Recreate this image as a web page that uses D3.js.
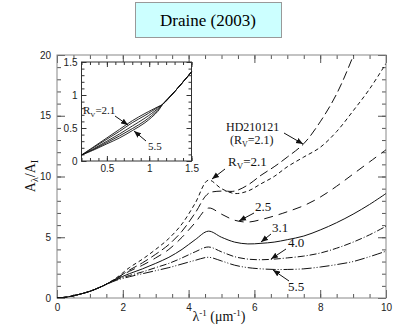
<!DOCTYPE html>
<html>
<head>
<meta charset="utf-8">
<script src="https://cdn.jsdelivr.net/npm/d3@7"></script>
<style>
body { margin: 0; background: #fff; }
</style>
</head>
<body>
<div id="chart"></div>
<script>
// main panel: A_lambda/A_I against inverse wavelength
var xs = [0, 0.3, 0.6, 1.0, 1.4, 1.8, 2.2, 2.6, 3.0, 3.4, 3.8, 4.2, 4.6, 5.0, 5.4, 5.8, 6.2, 6.6, 7.0, 7.5, 8.0, 8.5, 9.0, 9.5, 10];
var hd210121 = [0, 0.08, 0.25, 0.55, 1.0, 1.6, 2.3, 2.9, 3.6, 4.4, 5.5, 7.0, 8.6, 8.8, 8.8, 9.3, 10.1, 10.8, 11.6, 12.7, 14.5, 16.8, 19.9, 23.5, 27.5];
var rv21 = [0, 0.08, 0.25, 0.55, 1.0, 1.65, 2.5, 3.2, 4.0, 4.9, 6.1, 7.8, 9.7, 9.0, 8.6, 8.8, 9.4, 10.0, 10.8, 11.6, 12.4, 13.7, 15.4, 17.2, 19.3];
var rv25 = [0, 0.08, 0.25, 0.55, 1.0, 1.6, 2.2, 2.7, 3.3, 4.0, 5.0, 6.2, 7.4, 6.9, 6.4, 6.25, 6.45, 6.75, 7.1, 7.6, 8.3, 9.2, 10.2, 11.2, 12.2];
var rv31 = [0, 0.08, 0.25, 0.55, 1.0, 1.55, 2.0, 2.4, 2.85, 3.35, 4.0, 4.8, 5.5, 5.0, 4.6, 4.45, 4.5, 4.6, 4.8, 5.1, 5.6, 6.2, 6.9, 7.7, 8.6];
var rv40 = [0, 0.08, 0.25, 0.55, 1.0, 1.5, 1.85, 2.15, 2.5, 2.85, 3.3, 3.8, 4.2, 3.8, 3.4, 3.2, 3.15, 3.2, 3.3, 3.45, 3.7, 4.1, 4.6, 5.2, 5.9];
var rv55 = [0, 0.08, 0.25, 0.55, 1.0, 1.45, 1.75, 2.0, 2.25, 2.5, 2.8, 3.1, 3.35, 3.05, 2.7, 2.5, 2.4, 2.35, 2.35, 2.4, 2.55, 2.75, 3.0, 3.4, 3.85];
var xTicks = [0, 2, 4, 6, 8, 10];
var yTicks = [0, 5, 10, 15, 20];

// inset: near-IR part
var xsIn = [0.2, 0.35, 0.5, 0.65, 0.8, 0.95, 1.1, 1.16, 1.3, 1.5];
var in21 = [0.09, 0.22, 0.35, 0.48, 0.61, 0.72, 0.82, 0.86, 1.05, 1.35];
var in25 = [0.09, 0.21, 0.33, 0.45, 0.58, 0.69, 0.81, 0.86, 1.05, 1.35];
var in31 = [0.09, 0.19, 0.30, 0.41, 0.53, 0.65, 0.79, 0.86, 1.05, 1.35];
var in40 = [0.09, 0.18, 0.28, 0.38, 0.49, 0.61, 0.77, 0.86, 1.05, 1.35];
var in55 = [0.09, 0.17, 0.26, 0.35, 0.46, 0.58, 0.75, 0.86, 1.05, 1.35];
var xTicksIn = [0.5, 1, 1.5];
var yTicksIn = [0, 0.5, 1, 1.5];

var W = 403, H = 327;
var svg = d3.select("#chart").append("svg").attr("width", W).attr("height", H);

var serif = "'Liberation Serif', 'Times New Roman', serif";
var tickFont = "'Liberation Sans', Arial, sans-serif";

// title box
svg.append("rect").attr("x", 135.5).attr("y", 2.5).attr("width", 146).attr("height", 35)
	.style("fill", "#ccffff").style("stroke", "#999").style("stroke-width", 1);
svg.append("text").attr("x", 208).attr("y", 26).attr("text-anchor", "middle")
	.style("font-family", serif).style("font-size", "17px").text("Draine (2003)");

var L = 57, R = 386, T = 55, B = 298;
var x = d3.scaleLinear().domain([0, 10]).range([L, R]);
var y = d3.scaleLinear().domain([0, 20]).range([B, T]);

// ticks on all four sides, pointing inward
function ticksMain() {
	var g = svg.append("g").attr("class", "axis").style("font-family", tickFont).style("font-size", "14px");
	g.append("g").attr("transform", "translate(0," + B + ")")
		.call(d3.axisBottom(x).tickValues(xTicks).tickSize(-8).tickPadding(6).tickFormat(d3.format("d")));
	g.append("g").attr("transform", "translate(0," + B + ")")
		.call(d3.axisBottom(x).tickValues(d3.range(0, 10.01, 0.5)).tickSize(-4).tickFormat(""));
	g.append("g").attr("transform", "translate(0," + T + ")")
		.call(d3.axisTop(x).tickValues(xTicks).tickSize(-8).tickFormat(""));
	g.append("g").attr("transform", "translate(0," + T + ")")
		.call(d3.axisTop(x).tickValues(d3.range(0, 10.01, 0.5)).tickSize(-4).tickFormat(""));
	g.append("g").attr("transform", "translate(" + L + ",0)")
		.call(d3.axisLeft(y).tickValues(yTicks).tickSize(-8).tickPadding(6).tickFormat(d3.format("d")));
	g.append("g").attr("transform", "translate(" + L + ",0)")
		.call(d3.axisLeft(y).tickValues(d3.range(0, 20.01, 1)).tickSize(-4).tickFormat(""));
	g.append("g").attr("transform", "translate(" + R + ",0)")
		.call(d3.axisRight(y).tickValues(yTicks).tickSize(-8).tickFormat(""));
	g.append("g").attr("transform", "translate(" + R + ",0)")
		.call(d3.axisRight(y).tickValues(d3.range(0, 20.01, 1)).tickSize(-4).tickFormat(""));
	g.selectAll(".domain").remove();
	g.selectAll("line").style("stroke", "#555");
	g.selectAll("text").style("fill", "#222");
}
ticksMain();
svg.append("rect").attr("x", L).attr("y", T).attr("width", R - L).attr("height", B - T)
	.style("fill", "none").style("stroke", "#888").style("stroke-width", 1);

svg.append("clipPath").attr("id", "clipMain").append("rect")
	.attr("x", L).attr("y", T).attr("width", R - L).attr("height", B - T);

var series = [
	{ v: hd210121, dash: "9,4" },
	{ v: rv21, dash: "4,3" },
	{ v: rv25, dash: "9,6" },
	{ v: rv31, dash: null },
	{ v: rv40, dash: "7,2,1,2" },
	{ v: rv55, dash: "10,2,1,2,1,2" }
];
var line = d3.line().x(function(d) { return x(d[0]); }).y(function(d) { return y(d[1]); })
	.curve(d3.curveCatmullRom.alpha(0.5));
svg.append("g").attr("clip-path", "url(#clipMain)").selectAll("path").data(series).enter().append("path")
	.attr("d", function(s) { return line(xs.map(function(v, i) { return [v, s.v[i]]; })); })
	.style("fill", "none").style("stroke", "#111").style("stroke-width", 1)
	.style("stroke-dasharray", function(s) { return s.dash; });

// arrowhead
svg.append("defs").append("marker").attr("id", "arr").attr("viewBox", "0 0 10 10")
	.attr("refX", 10).attr("refY", 5).attr("markerWidth", 7).attr("markerHeight", 7)
	.attr("orient", "auto-start-reverse").append("path").attr("d", "M0,1 L10,5 L0,9 z").style("fill", "#111");

function label(px, py, parts, size) {
	var t = svg.append("text").attr("x", px).attr("y", py).style("font-family", serif)
		.style("font-size", (size || 13) + "px").style("fill", "#111");
	parts.forEach(function(p) {
		var ts = t.append("tspan").text(p.t);
		if (p.sub) ts.attr("dy", 3).style("font-size", ((size || 13) - 4) + "px");
		if (p.up) ts.attr("dy", -3);
	});
	return t;
}
function arrow(x1, y1, x2, y2) {
	svg.append("line").attr("x1", x1).attr("y1", y1).attr("x2", x2).attr("y2", y2)
		.style("stroke", "#111").style("stroke-width", 1).attr("marker-end", "url(#arr)");
}

// curve labels
label(226, 131, [{ t: "HD210121" }], 12);
label(230, 144, [{ t: "(R" }, { t: "V", sub: true }, { t: "=2.1)", up: true }], 12);
arrow(284, 133, 303, 144);
label(228, 166, [{ t: "R" }, { t: "V", sub: true }, { t: "=2.1", up: true }]);
arrow(225, 169, 212, 179);
label(255, 211, [{ t: "2.5" }]);
arrow(254, 213, 239, 221);
label(272, 232, [{ t: "3.1" }]);
arrow(271, 234, 261, 242);
label(288, 247, [{ t: "4.0" }]);
arrow(286, 249, 271, 259);
label(288, 291, [{ t: "5.5" }]);
arrow(289, 281, 273, 270);

// axis titles
var yl = svg.append("text").attr("transform", "translate(35,176) rotate(-90)").attr("text-anchor", "middle")
	.style("font-family", serif).style("font-size", "14px").style("fill", "#111");
yl.append("tspan").text("A");
yl.append("tspan").text("λ").attr("dy", 3).style("font-size", "10px");
yl.append("tspan").text("/A").attr("dy", -3);
yl.append("tspan").text("I").attr("dy", 3).style("font-size", "10px");

var xl = svg.append("text").attr("x", 219).attr("y", 321).attr("text-anchor", "middle")
	.style("font-family", serif).style("font-size", "14px").style("fill", "#111");
xl.append("tspan").text("λ");
xl.append("tspan").text("-1").attr("dy", -5).style("font-size", "9px");
xl.append("tspan").text(" (μm").attr("dy", 5);
xl.append("tspan").text("-1").attr("dy", -5).style("font-size", "9px");
xl.append("tspan").text(")").attr("dy", 5);

// inset panel
var iL = 81.5, iR = 191.5, iT = 62, iB = 161;
var xi = d3.scaleLinear().domain([0.2, 1.5]).range([iL, iR]);
var yi = d3.scaleLinear().domain([0, 1.5]).range([iB, iT]);
svg.append("rect").attr("x", iL).attr("y", iT).attr("width", iR - iL).attr("height", iB - iT)
	.style("fill", "#fff").style("stroke", "#333");
var gi = svg.append("g").style("font-family", tickFont).style("font-size", "10px");
gi.append("g").attr("transform", "translate(0," + iB + ")")
	.call(d3.axisBottom(xi).tickValues(xTicksIn).tickSize(-5).tickPadding(4).tickFormat(d3.format("")));
gi.append("g").attr("transform", "translate(0," + iB + ")")
	.call(d3.axisBottom(xi).tickValues(d3.range(0.2, 1.51, 0.1)).tickSize(-3).tickFormat(""));
gi.append("g").attr("transform", "translate(0," + iT + ")")
	.call(d3.axisTop(xi).tickValues(xTicksIn).tickSize(-5).tickFormat(""));
gi.append("g").attr("transform", "translate(0," + iT + ")")
	.call(d3.axisTop(xi).tickValues(d3.range(0.2, 1.51, 0.1)).tickSize(-3).tickFormat(""));
gi.append("g").attr("transform", "translate(" + iL + ",0)")
	.call(d3.axisLeft(yi).tickValues(yTicksIn).tickSize(-5).tickPadding(4).tickFormat(d3.format("")));
gi.append("g").attr("transform", "translate(" + iL + ",0)")
	.call(d3.axisLeft(yi).tickValues(d3.range(0, 1.51, 0.1)).tickSize(-3).tickFormat(""));
gi.append("g").attr("transform", "translate(" + iR + ",0)")
	.call(d3.axisRight(yi).tickValues(yTicksIn).tickSize(-5).tickFormat(""));
gi.append("g").attr("transform", "translate(" + iR + ",0)")
	.call(d3.axisRight(yi).tickValues(d3.range(0, 1.51, 0.1)).tickSize(-3).tickFormat(""));
gi.selectAll(".domain").remove();
gi.selectAll("line").style("stroke", "#333");
gi.selectAll("text").style("fill", "#222");

var lineIn = d3.line().x(function(d) { return xi(d[0]); }).y(function(d) { return yi(d[1]); })
	.curve(d3.curveCatmullRom.alpha(0.5));
svg.append("g").selectAll("path").data([in21, in25, in31, in40, in55]).enter().append("path")
	.attr("d", function(v) { return lineIn(xsIn.map(function(a, i) { return [a, v[i]]; })); })
	.style("fill", "none").style("stroke", "#111").style("stroke-width", 0.9);

label(83, 114, [{ t: "R" }, { t: "V", sub: true }, { t: "=2.1", up: true }], 11);
arrow(115, 116, 128, 125);
label(148, 150, [{ t: "5.5" }], 11);
arrow(146, 141, 134, 131);
</script>
</body>
</html>
